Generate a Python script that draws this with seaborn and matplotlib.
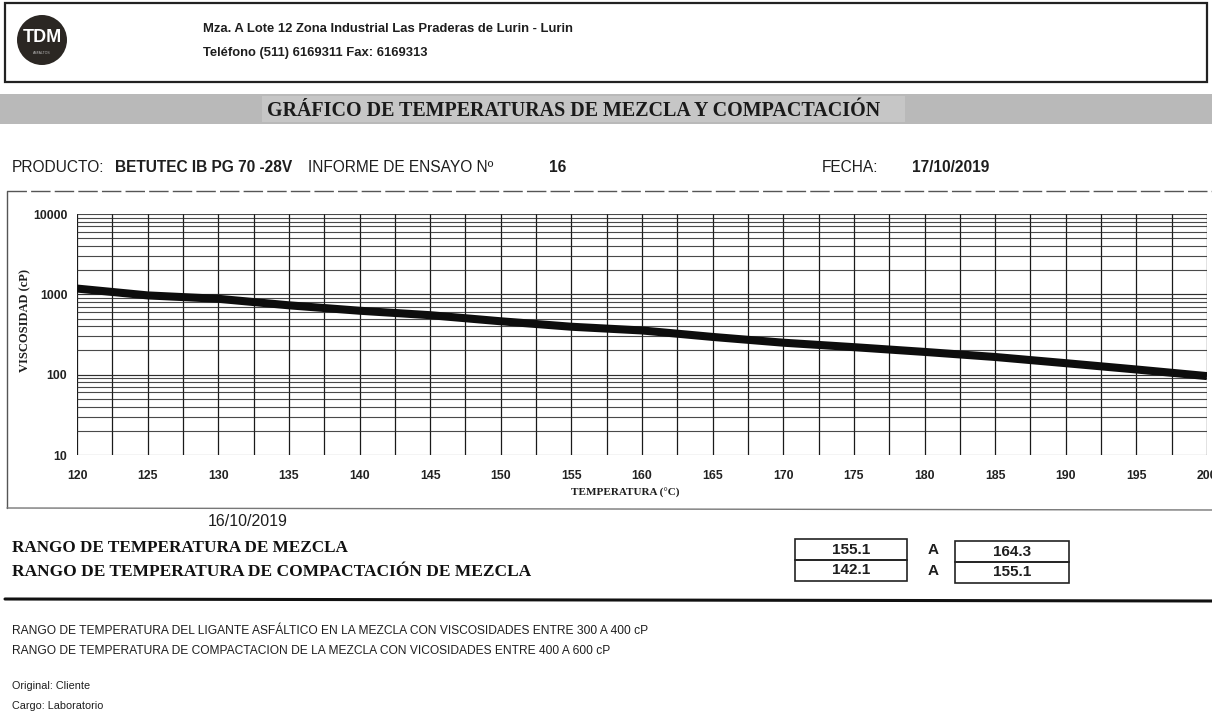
import numpy as np
import pandas as pd
import matplotlib
matplotlib.use("Agg")
import matplotlib.pyplot as plt
import seaborn as sns
from matplotlib.patches import Rectangle, Ellipse
from matplotlib.lines import Line2D
from matplotlib.ticker import FixedLocator, NullFormatter, NullLocator

# ---------------- data ----------------
temperatures = [120, 125, 130, 135, 140, 145, 150, 155, 160, 165, 170, 175, 180, 185, 190, 195, 200]
viscosity_cp = [1180, 970, 880, 730, 625, 550, 462, 395, 355, 295, 250, 220, 192, 166, 139, 116, 96]
x_ticks = [120, 125, 130, 135, 140, 145, 150, 155, 160, 165, 170, 175, 180, 185, 190, 195, 200]
y_ticks = [10, 100, 1000, 10000]
y_tick_labels = ["10", "100", "1000", "10000"]

mix_range = ["155.1", "164.3"]
comp_range = ["142.1", "155.1"]

sns.set_theme(style="white")
plt.rcParams['font.family'] = ['Liberation Sans', 'DejaVu Sans']
SERIF = ["Liberation Serif", "DejaVu Serif"]

W, H = 1212, 722
fig = plt.figure(figsize=(W / 100, H / 100), dpi=100)
fig.patch.set_facecolor("white")


def fx(x):
    return x / W


def fy(y):
    return 1 - y / H


def ftext(x, y, s, **kw):
    kw.setdefault("va", "center")
    kw.setdefault("ha", "left")
    kw.setdefault("color", "#1e1e1e")
    fig.text(fx(x), fy(y), s, **kw)


def fline(x0, y0, x1, y1, **kw):
    fig.add_artist(Line2D([fx(x0), fx(x1)], [fy(y0), fy(y1)], transform=fig.transFigure, **kw))


def frect(x0, y0, x1, y1, **kw):
    fig.add_artist(Rectangle((fx(x0), fy(y1)), fx(x1) - fx(x0), fy(y0) - fy(y1),
                             transform=fig.transFigure, **kw))


# ---------------- header ----------------
frect(5, 3, 1207, 82, fill=False, edgecolor="#222222", lw=1.6)
fig.add_artist(Ellipse((fx(42), fy(40)), 2 * 25 / W, 2 * 25 / H, transform=fig.transFigure,
                       facecolor="#2b2723", edgecolor="none"))
ftext(42, 37, "TDM", ha="center", color="white", fontsize=13, fontweight="bold")
ftext(42, 53, "ASFALTOS", ha="center", color="#bbbbbb", fontsize=2.5)
ftext(203, 29, "Mza. A Lote 12 Zona Industrial Las Praderas de Lurin - Lurin", fontsize=9.4,
      fontweight="bold")
ftext(203, 53, "Teléfono (511) 6169311 Fax: 6169313", fontsize=9.4, fontweight="bold")

# banner
frect(0, 94, 1212, 124, facecolor="#b9b9b9", edgecolor="none")
frect(262, 96, 905, 122, facecolor="#c6c6c6", edgecolor="none")
ftext(574, 111, "GRÁFICO DE TEMPERATURAS DE MEZCLA Y COMPACTACIÓN", ha="center",
      fontsize=14.4, fontweight="bold", family=SERIF, color="#1a1a1a")

# product line
ftext(12, 168, "PRODUCTO:", fontsize=11.2)
ftext(115, 168, "BETUTEC IB PG 70 -28V", fontsize=11.2, fontweight="bold")
ftext(308, 168, "INFORME DE ENSAYO Nº", fontsize=11.2)
ftext(549, 168, "16", fontsize=11.2, fontweight="bold")
ftext(822, 168, "FECHA:", fontsize=11.2)
ftext(912, 168, "17/10/2019", fontsize=11.2, fontweight="bold")

# chart frame
fline(7, 191, 1212, 191, color="#555555", lw=1.0, ls=(0, (14, 3)))
fline(7, 191, 7, 508, color="#555555", lw=1.0)
fline(7, 508, 1212, 510, color="#777777", lw=1.0)

# ---------------- chart ----------------
ax_left, ax_right, ax_top, ax_bottom = 77, 1207, 214, 455
ax = fig.add_axes([fx(ax_left), fy(ax_bottom), fx(ax_right) - fx(ax_left), (ax_bottom - ax_top) / H])
ax.set_facecolor("white")

df = pd.DataFrame({"Temperatura": temperatures, "Viscosidad": viscosity_cp})
sns.lineplot(data=df, x="Temperatura", y="Viscosidad", ax=ax, color="#0d0d0d", lw=5.8,
             solid_capstyle="butt", zorder=5)

ax.set_yscale("log")
ax.set_xlim(120, 200)
ax.set_ylim(10, 10000)

# grid: vertical every 2.5 deg, horizontal at log minor/major
for t in np.arange(120, 200.01, 2.5):
    ax.axvline(t, color="#1a1a1a", lw=0.9, zorder=1)
for dec in [10, 100, 1000]:
    for m in range(1, 11):
        ax.axhline(dec * m, color="#2a2a2a", lw=0.8, zorder=1, alpha=0.85)

ax.xaxis.set_major_locator(FixedLocator(x_ticks))
ax.set_xticklabels([str(t) for t in x_ticks])
ax.yaxis.set_major_locator(FixedLocator(y_ticks))
ax.set_yticklabels(y_tick_labels)
ax.yaxis.set_minor_locator(NullLocator())
ax.yaxis.set_minor_formatter(NullFormatter())
ax.tick_params(axis="both", length=0, labelsize=8.8, colors="#222222")
ax.tick_params(axis="x", pad=11)
ax.tick_params(axis="y", pad=7)
for lab in ax.get_xticklabels() + ax.get_yticklabels():
    lab.set_fontweight("bold")
for s in ax.spines.values():
    s.set_visible(False)
ax.grid(False)
ax.set_xlabel("")
ax.set_ylabel("")

ftext(625, 493, "TEMPERATURA (°C)", ha="center", fontsize=8, fontweight="bold", family=SERIF)
ftext(25, 320, "VISCOSIDAD (cP)", ha="center", fontsize=9, fontweight="bold", rotation=90,
      family=SERIF)

# ---------------- ranges ----------------
ftext(248, 521, "16/10/2019", ha="center", fontsize=11.5)
ftext(12, 548, "RANGO DE TEMPERATURA DE MEZCLA", fontsize=12.3, fontweight="bold",
      family=SERIF, color="#111111")
ftext(12, 572, "RANGO DE TEMPERATURA DE COMPACTACIÓN DE MEZCLA", fontsize=12.5, fontweight="bold",
      family=SERIF, color="#111111")

frect(795, 539, 907, 560, fill=False, edgecolor="#222222", lw=1.2)
frect(795, 560, 907, 581, fill=False, edgecolor="#222222", lw=1.2)
frect(955, 541, 1069, 562, fill=False, edgecolor="#222222", lw=1.2)
frect(955, 562, 1069, 583, fill=False, edgecolor="#222222", lw=1.2)
ftext(851, 549.5, mix_range[0], ha="center", fontsize=11, fontweight="bold")
ftext(851, 570.5, comp_range[0], ha="center", fontsize=11, fontweight="bold")
ftext(933, 550, "A", ha="center", fontsize=11, fontweight="bold")
ftext(933, 571, "A", ha="center", fontsize=11, fontweight="bold")
ftext(1012, 551.5, mix_range[1], ha="center", fontsize=11, fontweight="bold")
ftext(1012, 572.5, comp_range[1], ha="center", fontsize=11, fontweight="bold")

fline(5, 599, 1212, 601, color="#111111", lw=2.2)

ftext(12, 631, "RANGO DE TEMPERATURA DEL LIGANTE ASFÁLTICO EN LA MEZCLA CON VISCOSIDADES ENTRE 300 A 400 cP",
      fontsize=8.65)
ftext(12, 651, "RANGO DE TEMPERATURA DE COMPACTACION DE LA MEZCLA CON VICOSIDADES ENTRE 400 A 600 cP",
      fontsize=8.65)
ftext(12, 686, "Original: Cliente", fontsize=7.8)
ftext(12, 706, "Cargo: Laboratorio", fontsize=7.8)

fig.savefig("out.png", dpi=100, facecolor="white")
